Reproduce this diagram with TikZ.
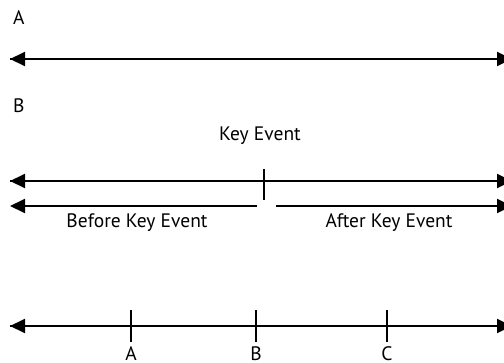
\documentclass[tikz,border=0pt]{standalone}
\usepackage{fontspec}
\setmainfont{PT Sans}
\usetikzlibrary{arrows.meta}

\begin{document}
\begin{tikzpicture}[x=1pt, y=-1pt, line width=2pt,
    lbl/.style={font=\fontsize{19.5}{22}\selectfont, inner sep=0pt},
    tip/.style={-{Triangle[length=15pt,width=14pt]}}]
                \useasboundingbox (0,0) rectangle (504,362);

                % part A
                \node[lbl, anchor=base west] (partA) at (12,24) {A};
                \coordinate (a0) at (10,59);
                \coordinate (a1) at (512,59);
                \draw[tip] (a1) -- (a0);
                \draw[tip] (a0) -- (a1);

                % part B
                \node[lbl, anchor=base west] (partB) at (12,112) {B};
                \node[lbl, anchor=base] (key) at (260,140) {Key Event};
                \coordinate (b0) at (10,181);
                \coordinate (b1) at (512,181);
                \draw[tip] (b1) -- (b0);
                \draw[tip] (b0) -- (b1);
                \coordinate (k0) at (264,169);
                \coordinate (k1) at (264,200);
                \draw (k0) -- (k1);

                % before / after
                \coordinate (c0) at (10,206);
                \coordinate (c1) at (257,206);
                \coordinate (c2) at (276,206);
                \coordinate (c3) at (512,206);
                \draw[tip] (c1) -- (c0);
                \draw[tip] (c2) -- (c3);
                \node[lbl, anchor=base] (before) at (137,227) {Before Key Event};
                \node[lbl, anchor=base] (after) at (389,227) {After Key Event};

                % time line
                \coordinate (t0) at (10,326);
                \coordinate (t1) at (512,326);
                \draw[tip] (t1) -- (t0);
                \draw[tip] (t0) -- (t1);
                \foreach \x/\name in {131/A, 256/B, 387/C} {
                    \draw (\x,310) -- (\x,342);
                    \node[lbl, anchor=base] (mark\name) at (\x,360) {\name};
                }
            \end{tikzpicture}
\end{document}
